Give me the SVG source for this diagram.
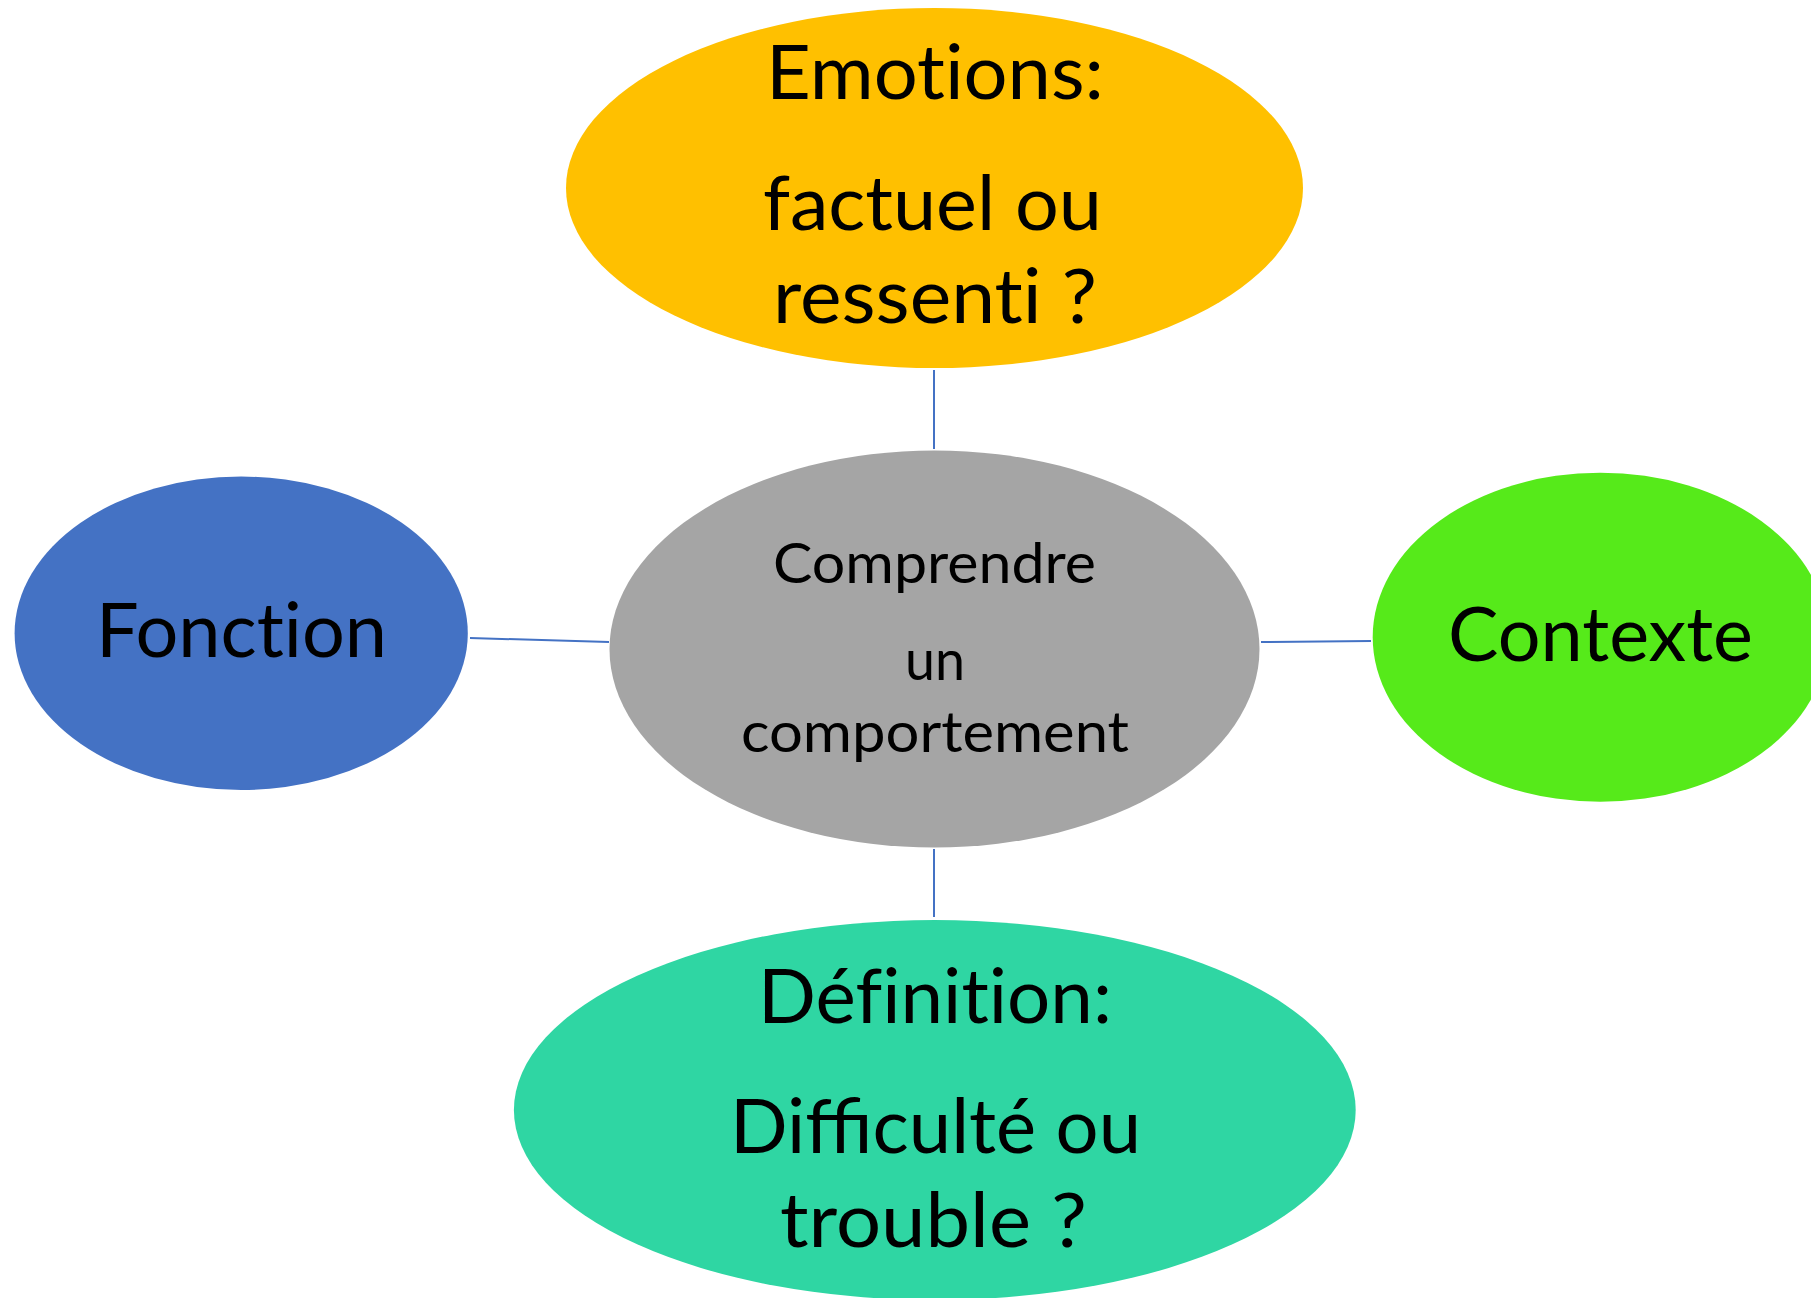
<svg xmlns="http://www.w3.org/2000/svg" width="1811" height="1298" viewBox="0 0 1811 1298">
<style>
.lbl{font-family:Lato,"Liberation Sans",sans-serif;fill:#000;text-anchor:middle;font-variant-ligatures:none;font-feature-settings:"liga" 0,"clig" 0,"dlig" 0;}
.lig{font-variant-ligatures:normal;font-feature-settings:"liga" 1;}
.big{font-size:76px;}
.mid{font-size:56px;}
.conn{stroke:#4472C4;stroke-width:2;fill:none;}
</style>
<rect width="1811" height="1298" fill="#fff"/>
<g id="connectors">
<line class="conn" x1="934" y1="370" x2="934" y2="449"/>
<line class="conn" x1="470" y1="638" x2="609" y2="642"/>
<line class="conn" x1="1261" y1="642" x2="1371" y2="641"/>
<line class="conn" x1="934" y1="849" x2="934" y2="917"/>
</g>
<g id="emotions">
<ellipse cx="934.5" cy="188" rx="368.5" ry="180" fill="#FFC000"/>
<text class="lbl big" x="935" y="99" textLength="338" lengthAdjust="spacingAndGlyphs">Emotions:</text>
<text class="lbl big" x="932.5" y="230" textLength="339" lengthAdjust="spacingAndGlyphs">factuel ou</text>
<text class="lbl big" x="935" y="323" textLength="324" lengthAdjust="spacingAndGlyphs">ressenti ?</text>
</g>
<g id="centre">
<ellipse cx="934.5" cy="649" rx="325" ry="198.5" fill="#A5A5A5"/>
<text class="lbl mid" x="934.5" y="583" textLength="323" lengthAdjust="spacingAndGlyphs">Comprendre</text>
<text class="lbl mid" x="935" y="680" textLength="60" lengthAdjust="spacingAndGlyphs">un</text>
<text class="lbl mid" x="935" y="752" textLength="388" lengthAdjust="spacingAndGlyphs">comportement</text>
</g>
<g id="fonction">
<ellipse cx="241.2" cy="633.3" rx="226.6" ry="156.7" fill="#4472C4"/>
<text class="lbl big" x="241.5" y="657" textLength="291" lengthAdjust="spacingAndGlyphs">Fonction</text>
</g>
<g id="contexte">
<ellipse cx="1600.3" cy="637.2" rx="227.6" ry="164.5" fill="#56EA1A"/>
<text class="lbl big" x="1600.5" y="661" textLength="305" lengthAdjust="spacingAndGlyphs">Contexte</text>
</g>
<g id="definition">
<ellipse cx="934.8" cy="1110" rx="420.9" ry="190" fill="#2FD6A3"/>
<text class="lbl big" x="935" y="1023" textLength="354" lengthAdjust="spacingAndGlyphs">Définition:</text>
<text class="lbl big lig" x="935.5" y="1153" textLength="411" lengthAdjust="spacingAndGlyphs">Difficulté ou</text>
<text class="lbl big" x="933.5" y="1247" textLength="307" lengthAdjust="spacingAndGlyphs">trouble ?</text>
</g>
</svg>
